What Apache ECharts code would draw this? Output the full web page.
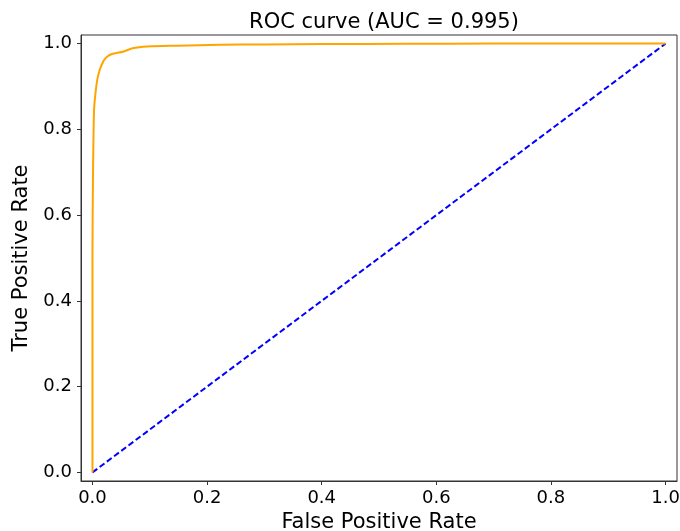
<!DOCTYPE html>
<html>
<head>
<meta charset="utf-8">
<script src="https://cdn.jsdelivr.net/npm/echarts@6/dist/echarts.min.js"></script>
<style>
  html, body { margin: 0; padding: 0; background: #fff; }
  #container { width: 680px; height: 531px; }
</style>
</head>
<body>
<div id="container"></div>
<script>
// ROC curve points
var fpr = [0.0, 0.0, 0.001, 0.002, 0.003, 0.006, 0.009, 0.013, 0.017, 0.021, 0.026, 0.033, 0.042, 0.053, 0.07, 0.096, 0.148, 0.223, 0.3, 0.4, 0.55, 0.7, 1.0]
var tpr = [0.0, 0.5, 0.7, 0.8, 0.85, 0.893, 0.92, 0.94, 0.953, 0.963, 0.97, 0.975, 0.978, 0.981, 0.989, 0.993, 0.995, 0.997, 0.998, 0.999, 0.9995, 1.0, 1.0]
var chance = [[0, 0], [1, 1]]
var tickValues = [0, 0.2, 0.4, 0.6, 0.8, 1.0]

var rocPoints = []
for (let i = 0; i < fpr.length; i++) {
    rocPoints.push([fpr[i], tpr[i]])
}

var font = 'DejaVu Sans'
var myChart = echarts.init(document.getElementById('container'))

var option = {
    animation: false,
    backgroundColor: '#fff',
    title: {
        text: 'ROC curve (AUC = 0.995)',
        left: 379,
        top: 7,
        textAlign: 'center',
        textStyle: { fontFamily: font, fontSize: 21, fontWeight: 'normal', color: '#000' }
    },
    grid: {
        left: 81, top: 35, right: 3, bottom: 50,
        outerBoundsMode: 'none',
        containLabel: false,
        show: true, borderColor: '#333', borderWidth: 1
    },
    xAxis: {
        type: 'value',
        min: -0.02, max: 1.02,
        name: 'False Positive Rate',
        nameLocation: 'middle',
        nameGap: 30,
        nameTextStyle: { fontFamily: font, fontSize: 21, color: '#000' },
        axisLine: { show: true, onZero: false, lineStyle: { color: '#333' } },
        axisTick: { show: true, length: 4, customValues: tickValues, lineStyle: { color: '#333' } },
        axisLabel: {
            customValues: tickValues, margin: 8,
            fontFamily: font, fontSize: 18, color: '#000',
            formatter: function (v) { return v.toFixed(1) }
        },
        splitLine: { show: false }
    },
    yAxis: {
        type: 'value',
        min: -0.02, max: 1.02,
        name: 'True Positive Rate',
        nameLocation: 'middle',
        nameGap: 46,
        nameTextStyle: { fontFamily: font, fontSize: 21, color: '#000' },
        axisLine: { show: true, onZero: false, lineStyle: { color: '#333' } },
        axisTick: { show: true, length: 4, customValues: tickValues, lineStyle: { color: '#333' } },
        axisLabel: {
            customValues: tickValues, margin: 9,
            fontFamily: font, fontSize: 18, color: '#000',
            formatter: function (v) { return v.toFixed(1) }
        },
        splitLine: { show: false }
    },
    series: [{
        type: 'line',
        data: rocPoints,
        showSymbol: false,
        smooth: 0.3,
        lineStyle: { color: '#FFA500', width: 2 },
        z: 3
    }, {
        type: 'line',
        data: chance,
        showSymbol: false,
        lineStyle: { color: '#0000FF', width: 2, type: [6, 3] },
        z: 2
    }]
}
myChart.setOption(option)
</script>
</body>
</html>
